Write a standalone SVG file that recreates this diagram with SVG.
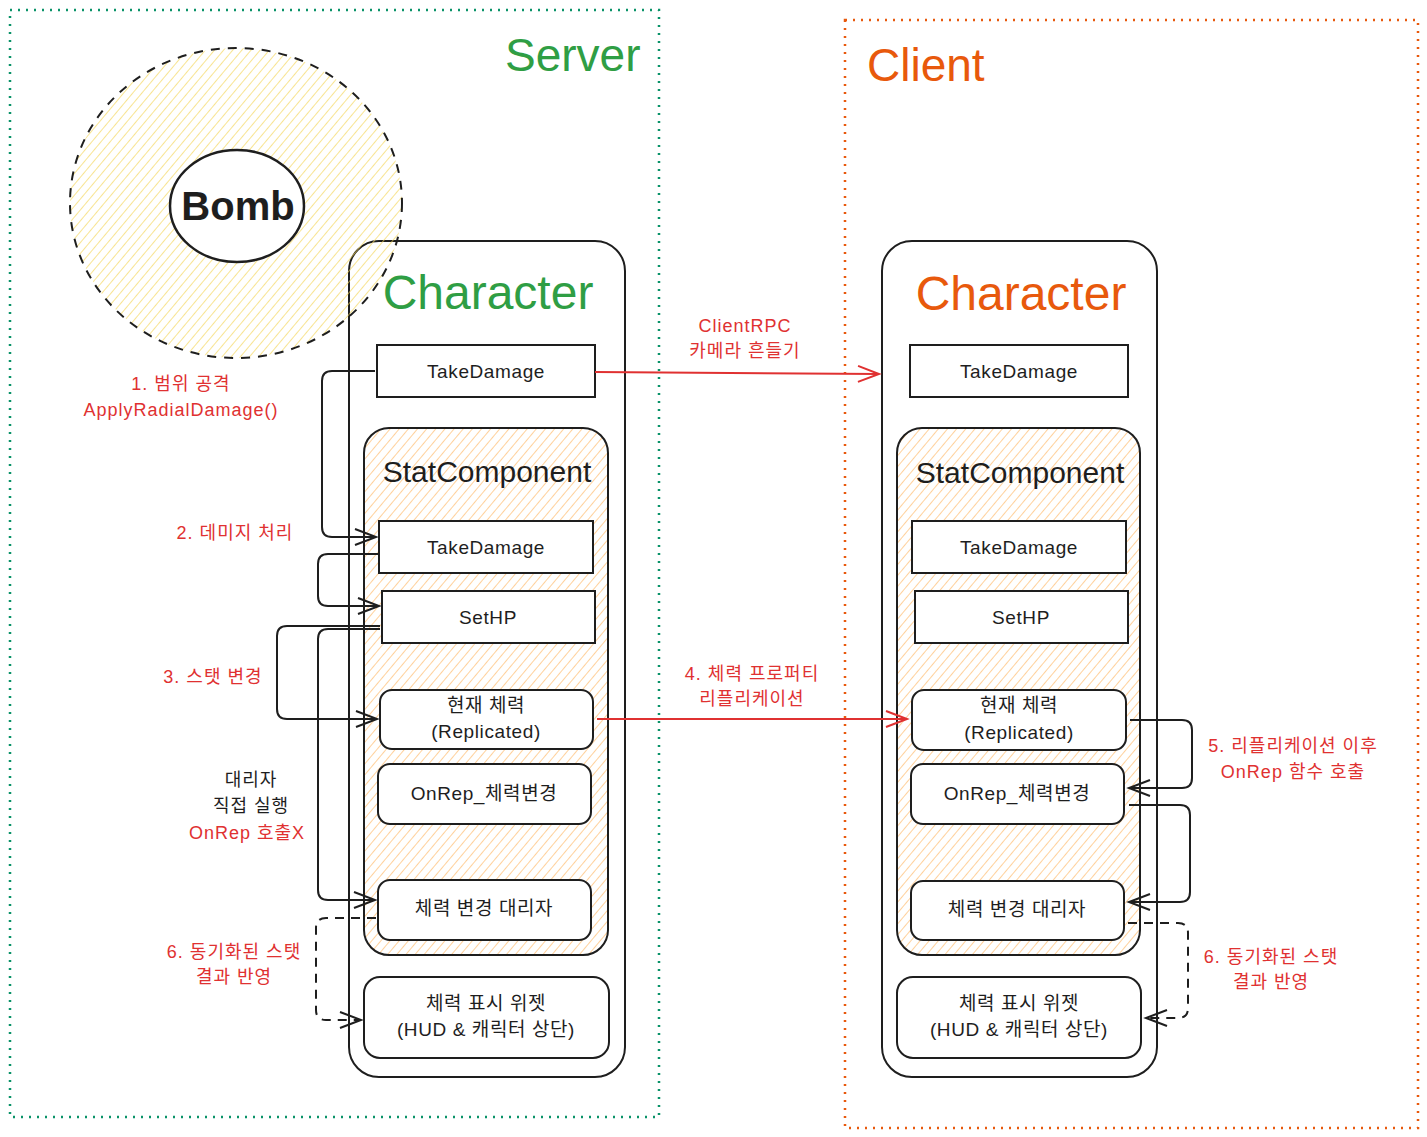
<svg xmlns="http://www.w3.org/2000/svg" width="1427" height="1137" viewBox="0 0 1427 1137">
<defs>
<style>
text{font-family:"Liberation Sans","Noto Sans CJK KR",sans-serif;fill:#1e1e1e}
.box{fill:#fff;stroke:#1e1e1e;stroke-width:2}
.cont{fill:none;stroke:#1e1e1e;stroke-width:2}
.t{font-size:19px;text-anchor:middle;letter-spacing:0.6px}
.red{fill:#e03131;font-size:18px;text-anchor:middle;letter-spacing:1px}
.blk{font-size:18px;text-anchor:middle;letter-spacing:1px}
.c{fill:none;stroke:#1e1e1e;stroke-width:2;stroke-linejoin:round}
.cr{fill:none;stroke:#e03131;stroke-width:2}
.dash{stroke-dasharray:9 7}
</style>
<pattern id="hy" patternUnits="userSpaceOnUse" width="7" height="7" patternTransform="rotate(40)"><line x1="0" y1="0" x2="0" y2="7" stroke="#f5d656" stroke-width="1.3"/></pattern>
<pattern id="ho" patternUnits="userSpaceOnUse" width="7" height="7" patternTransform="rotate(40)"><line x1="0" y1="0" x2="0" y2="7" stroke="#ffb866" stroke-width="1.3"/></pattern>
<marker id="ab" markerUnits="userSpaceOnUse" markerWidth="26" markerHeight="24" viewBox="-23 -12 26 24" refX="0" refY="0" orient="auto"><path d="M-21,-8 L0,0 L-21,8" fill="none" stroke="#1e1e1e" stroke-width="2"/></marker>
<marker id="ar" markerUnits="userSpaceOnUse" markerWidth="26" markerHeight="24" viewBox="-23 -12 26 24" refX="0" refY="0" orient="auto"><path d="M-21,-8 L0,0 L-21,8" fill="none" stroke="#e03131" stroke-width="2"/></marker>
</defs>
<rect width="1427" height="1137" fill="#fff"/>

<g id="server-frame">
<rect x="10" y="10" width="649" height="1107" fill="none" stroke="#099268" stroke-width="2.5" stroke-dasharray="2 6"/>
<text x="505" y="71" style="font-size:46px;fill:#2f9e44">Server</text>
</g>
<g id="client-frame">
<rect x="845" y="20" width="573" height="1108" fill="none" stroke="#e8590c" stroke-width="2.5" stroke-dasharray="2 6"/>
<text x="867" y="81" style="font-size:46px;fill:#e8590c">Client</text>
</g>

<g id="server-character">
<rect class="cont" x="349" y="241" width="276" height="836" rx="30"/>
<text x="488" y="309" style="font-size:48px;fill:#2f9e44;text-anchor:middle">Character</text>
</g>

<g id="bomb-radius">
<ellipse cx="236" cy="203" rx="166" ry="155" fill="url(#hy)" stroke="#1e1e1e" stroke-width="2" stroke-dasharray="9 8"/>
</g>
<g id="bomb">
<ellipse cx="237" cy="206" rx="67" ry="56" fill="#fff" stroke="#1e1e1e" stroke-width="2.5"/>
<text x="238" y="220" style="font-size:40px;font-weight:bold;text-anchor:middle">Bomb</text>
</g>

<g id="server-takedamage">
<rect class="box" x="377" y="345" width="218" height="52"/>
<text class="t" x="486" y="378">TakeDamage</text>
</g>
<g id="server-statcomponent">
<rect x="364" y="428" width="244" height="527" rx="25" fill="url(#ho)" stroke="#1e1e1e" stroke-width="2"/>
<text x="487" y="482" style="font-size:30px;text-anchor:middle">StatComponent</text>
</g>
<g id="server-stat-takedamage">
<rect class="box" x="379" y="521" width="214" height="52"/>
<text class="t" x="486" y="554">TakeDamage</text>
</g>
<g id="server-sethp">
<rect class="box" x="382" y="591" width="213" height="52"/>
<text class="t" x="488" y="624">SetHP</text>
</g>
<g id="server-currenthp">
<rect class="box" x="380" y="690" width="213" height="59" rx="12"/>
<text class="t" x="486" y="712">현재 체력</text>
<text class="t" x="486" y="738">(Replicated)</text>
</g>
<g id="server-onrep">
<rect class="box" x="378" y="764" width="213" height="60" rx="12"/>
<text class="t" x="484" y="800">OnRep_체력변경</text>
</g>
<g id="server-delegate">
<rect class="box" x="378" y="880" width="213" height="60" rx="12"/>
<text class="t" x="484" y="915">체력 변경 대리자</text>
</g>
<g id="server-widget">
<rect class="box" x="364" y="977" width="245" height="81" rx="16"/>
<text class="t" x="486" y="1010">체력 표시 위젯</text>
<text class="t" x="486" y="1036">(HUD &amp; 캐릭터 상단)</text>
</g>

<g id="client-character">
<rect class="cont" x="882" y="241" width="275" height="836" rx="30"/>
<text x="1021" y="310" style="font-size:48px;fill:#e8590c;text-anchor:middle">Character</text>
</g>
<g id="client-takedamage">
<rect class="box" x="910" y="345" width="218" height="52"/>
<text class="t" x="1019" y="378">TakeDamage</text>
</g>
<g id="client-statcomponent">
<rect x="897" y="428" width="243" height="527" rx="25" fill="url(#ho)" stroke="#1e1e1e" stroke-width="2"/>
<text x="1020" y="483" style="font-size:30px;text-anchor:middle">StatComponent</text>
</g>
<g id="client-stat-takedamage">
<rect class="box" x="912" y="521" width="214" height="52"/>
<text class="t" x="1019" y="554">TakeDamage</text>
</g>
<g id="client-sethp">
<rect class="box" x="915" y="591" width="213" height="52"/>
<text class="t" x="1021" y="624">SetHP</text>
</g>
<g id="client-currenthp">
<rect class="box" x="912" y="690" width="214" height="60" rx="12"/>
<text class="t" x="1019" y="712">현재 체력</text>
<text class="t" x="1019" y="739">(Replicated)</text>
</g>
<g id="client-onrep">
<rect class="box" x="911" y="764" width="213" height="60" rx="12"/>
<text class="t" x="1017" y="800">OnRep_체력변경</text>
</g>
<g id="client-delegate">
<rect class="box" x="911" y="881" width="213" height="59" rx="12"/>
<text class="t" x="1017" y="916">체력 변경 대리자</text>
</g>
<g id="client-widget">
<rect class="box" x="897" y="977" width="244" height="81" rx="16"/>
<text class="t" x="1019" y="1010">체력 표시 위젯</text>
<text class="t" x="1019" y="1036">(HUD &amp; 캐릭터 상단)</text>
</g>

<g id="connectors">
<path class="c" d="M375,371 L332,371 Q322,371 322,381 L322,527 Q322,537 332,537 L376,537" marker-end="url(#ab)"/>
<path class="c" d="M378,554 L328,554 Q318,554 318,564 L318,596 Q318,606 328,606 L379,606" marker-end="url(#ab)"/>
<path class="c" d="M380,626 L287,626 Q277,626 277,636 L277,709 Q277,719 287,719 L377,719" marker-end="url(#ab)"/>
<path class="c" d="M380,629 L328,629 Q318,629 318,639 L318,890 Q318,900 328,900 L375,900" marker-end="url(#ab)"/>
<path class="c dash" d="M376,918 L326,918 Q316,918 316,928 L316,1010 Q316,1020 326,1020 L361,1020" marker-end="url(#ab)"/>
<path class="cr" d="M595,372 L879,374" marker-end="url(#ar)"/>
<path class="cr" d="M597,719 L907,719" marker-end="url(#ar)"/>
<path class="c" d="M1130,720 L1182,720 Q1192,720 1192,730 L1192,778 Q1192,788 1182,788 L1129,788" marker-end="url(#ab)"/>
<path class="c" d="M1129,805 L1180,805 Q1190,805 1190,815 L1190,892 Q1190,902 1180,902 L1129,902" marker-end="url(#ab)"/>
<path class="c dash" d="M1128,923 L1178,923 Q1188,923 1188,933 L1188,1008 Q1188,1018 1178,1018 L1146,1018" marker-end="url(#ab)"/>
</g>

<g id="labels">
<text class="red" x="181" y="390">1. 범위 공격</text>
<text class="red" x="181" y="416">ApplyRadialDamage()</text>
<text class="red" x="235" y="539">2. 데미지 처리</text>
<text class="red" x="213" y="683">3. 스탯 변경</text>
<text class="blk" x="251" y="786">대리자</text>
<text class="blk" x="251" y="812">직접 실행</text>
<text class="red" x="247" y="839">OnRep 호출X</text>
<text class="red" x="234" y="958">6. 동기화된 스탯</text>
<text class="red" x="234" y="983">결과 반영</text>
<text class="red" x="745" y="332">ClientRPC</text>
<text class="red" x="745" y="357">카메라 흔들기</text>
<text class="red" x="752" y="680">4. 체력 프로퍼티</text>
<text class="red" x="752" y="705">리플리케이션</text>
<text class="red" x="1293" y="752">5. 리플리케이션 이후</text>
<text class="red" x="1293" y="778">OnRep 함수 호출</text>
<text class="red" x="1271" y="963">6. 동기화된 스탯</text>
<text class="red" x="1271" y="988">결과 반영</text>
</g>
</svg>
